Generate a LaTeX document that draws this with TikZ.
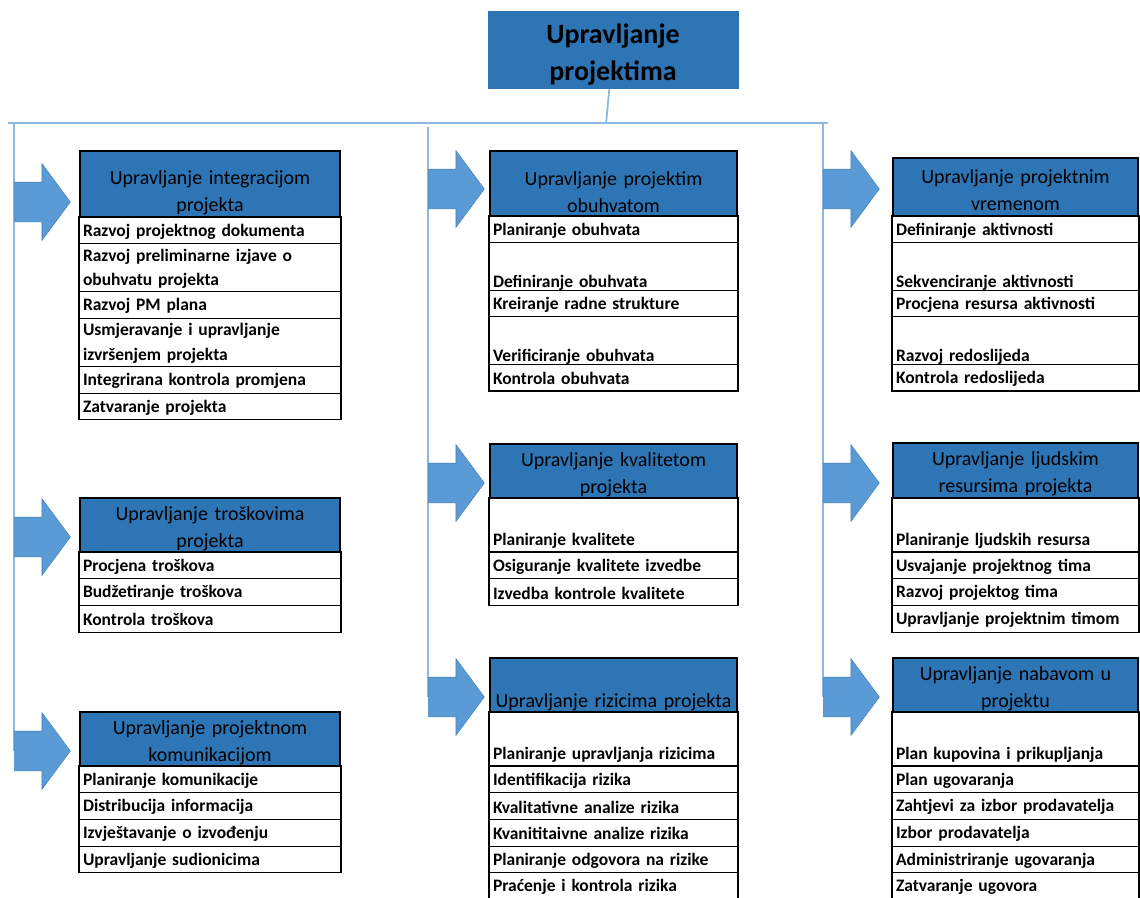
\documentclass[tikz,border=0pt]{standalone}
\usepackage{fontspec}
\setmainfont{Carlito}
\usetikzlibrary{positioning,shapes.arrows,backgrounds}

\definecolor{headblue}{HTML}{2E75B6}
\definecolor{arrowblue}{HTML}{5B9BD5}
\definecolor{arrowedge}{HTML}{4A85BE}
\definecolor{linkblue}{HTML}{8DB8E2}

\tikzstyle{title} = [rectangle, fill=headblue, draw=headblue, minimum width=250pt, minimum height=75pt, text height=66pt, align=center, font=\fontsize{28}{37}\selectfont\bfseries]
\tikzstyle{head} = [rectangle, fill=headblue, draw=black, line width=1.2pt, outer sep=0pt, inner xsep=3pt, inner ysep=0pt, text height=21pt, align=center, anchor=north, font=\fontsize{20}{27}\selectfont]
\tikzstyle{item} = [rectangle, fill=white, draw=black, line width=1.2pt, outer sep=0pt, inner xsep=4pt, inner ysep=0pt, text height=14.5pt, align=left, minimum height=26.7pt, font=\fontsize{17.5}{24.5}\selectfont\bfseries]
\tikzstyle{tall} = [minimum height=54pt]
\tikzstyle{low} = [text height=20pt]
\tikzstyle{colL} = [text width=254pt]
\tikzstyle{colM} = [text width=241pt]
\tikzstyle{colR} = [text width=239pt]
\tikzstyle{blockarrow} = [single arrow, fill=arrowblue, draw=arrowedge, line width=0.6pt, minimum height=56pt, inner xsep=0pt, inner ysep=19.5pt, single arrow head extend=18.5pt, single arrow tip angle=107, anchor=tail]
\tikzstyle{link} = [draw=linkblue, line width=1.8pt]

\begin{document}
\begin{tikzpicture}[x=1pt, y=-1pt]
  \useasboundingbox (0,0) rectangle (1140,897);
  \clip (0,0) rectangle (1140,897);

  \node (PM) [title] at (613,49.5) {Upravljanje\\projektima};

  \node (Int) [head, colL, minimum height=66pt, text height=32pt] at (210,151) {Upravljanje integracijom\\projekta};
  \node (Int1) [item, colL, below=0pt of Int] {Razvoj projektnog dokumenta};
  \node (Int2) [item, colL, minimum height=48pt, below=0pt of Int1] {Razvoj preliminarne izjave o\\obuhvatu projekta};
  \node (Int3) [item, colL, below=0pt of Int2] {Razvoj PM plana};
  \node (Int4) [item, colL, minimum height=48pt, below=0pt of Int3] {Usmjeravanje i upravljanje\\izvršenjem projekta};
  \node (Int5) [item, colL, below=0pt of Int4] {Integrirana kontrola promjena};
  \node (Int6) [item, colL, below=0pt of Int5] {Zatvaranje projekta};

  \node (Tros) [head, colL, minimum height=54pt] at (210,498) {Upravljanje troškovima\\projekta};
  \node (Tros1) [item, colL, below=0pt of Tros] {Procjena troškova};
  \node (Tros2) [item, colL, below=0pt of Tros1] {Budžetiranje troškova};
  \node (Tros3) [item, colL, below=0pt of Tros2] {Kontrola troškova};

  \node (Kom) [head, colL, minimum height=54pt] at (210,712) {Upravljanje projektnom\\komunikacijom};
  \node (Kom1) [item, colL, below=0pt of Kom] {Planiranje komunikacije};
  \node (Kom2) [item, colL, below=0pt of Kom1] {Distribucija informacija};
  \node (Kom3) [item, colL, below=0pt of Kom2] {Izvještavanje o izvođenju};
  \node (Kom4) [item, colL, below=0pt of Kom3] {Upravljanje sudionicima};

  \node (Obu) [head, colM, minimum height=65pt, text height=32pt] at (613.5,151) {Upravljanje projektim\\obuhvatom};
  \node (Obu1) [item, colM, below=0pt of Obu] {Planiranje obuhvata};
  \node (Obu2) [item, colM, low, minimum height=47pt, below=0pt of Obu1] {\mbox{}\\Definiranje obuhvata};
  \node (Obu3) [item, colM, below=0pt of Obu2] {Kreiranje radne strukture};
  \node (Obu4) [item, colM, low, minimum height=47pt, below=0pt of Obu3] {\mbox{}\\Verificiranje obuhvata};
  \node (Obu5) [item, colM, below=0pt of Obu4] {Kontrola obuhvata};

  \node (Kval) [head, colM, minimum height=54pt] at (613.5,444) {Upravljanje kvalitetom\\projekta};
  \node (Kval1) [item, colM, tall, low, below=0pt of Kval] {\mbox{}\\Planiranje kvalitete};
  \node (Kval2) [item, colM, below=0pt of Kval1] {Osiguranje kvalitete izvedbe};
  \node (Kval3) [item, colM, below=0pt of Kval2] {Izvedba kontrole kvalitete};

  \node (Riz) [head, colM, minimum height=54pt] at (613.5,658) {\mbox{}\\Upravljanje rizicima projekta};
  \node (Riz1) [item, colM, tall, low, below=0pt of Riz] {\mbox{}\\Planiranje upravljanja rizicima};
  \node (Riz2) [item, colM, below=0pt of Riz1] {Identifikacija rizika};
  \node (Riz3) [item, colM, below=0pt of Riz2] {Kvalitativne analize rizika};
  \node (Riz4) [item, colM, below=0pt of Riz3] {Kvanititaivne analize rizika};
  \node (Riz5) [item, colM, below=0pt of Riz4] {Planiranje odgovora na rizike};
  \node (Riz6) [item, colM, below=0pt of Riz5] {Praćenje i kontrola rizika};

  \node (Vrij) [head, colR, minimum height=58pt] at (1015.5,158) {Upravljanje projektnim\\vremenom};
  \node (Vrij1) [item, colR, below=0pt of Vrij] {Definiranje aktivnosti};
  \node (Vrij2) [item, colR, low, minimum height=47pt, below=0pt of Vrij1] {\mbox{}\\Sekvenciranje aktivnosti};
  \node (Vrij3) [item, colR, below=0pt of Vrij2] {Procjena resursa aktivnosti};
  \node (Vrij4) [item, colR, low, minimum height=47pt, below=0pt of Vrij3] {\mbox{}\\Razvoj redoslijeda};
  \node (Vrij5) [item, colR, below=0pt of Vrij4] {Kontrola redoslijeda};

  \node (Ljud) [head, colR, minimum height=55pt] at (1015.5,443) {Upravljanje ljudskim\\resursima projekta};
  \node (Ljud1) [item, colR, tall, low, below=0pt of Ljud] {\mbox{}\\Planiranje ljudskih resursa};
  \node (Ljud2) [item, colR, below=0pt of Ljud1] {Usvajanje projektnog tima};
  \node (Ljud3) [item, colR, below=0pt of Ljud2] {Razvoj projektog tima};
  \node (Ljud4) [item, colR, below=0pt of Ljud3] {Upravljanje projektnim timom};

  \node (Nab) [head, colR, minimum height=54pt] at (1015.5,658) {Upravljanje nabavom u\\projektu};
  \node (Nab1) [item, colR, tall, low, below=0pt of Nab] {\mbox{}\\Plan kupovina i prikupljanja};
  \node (Nab2) [item, colR, below=0pt of Nab1] {Plan ugovaranja};
  \node (Nab3) [item, colR, below=0pt of Nab2] {Zahtjevi za izbor prodavatelja};
  \node (Nab4) [item, colR, below=0pt of Nab3] {Izbor prodavatelja};
  \node (Nab5) [item, colR, below=0pt of Nab4] {Administriranje ugovaranja};
  \node (Nab6) [item, colR, below=0pt of Nab5] {Zatvaranje ugovora};

  \node (IntArrow) [blockarrow] at (14,202) {};
  \node (TrosArrow) [blockarrow] at (14,537) {};
  \node (KomArrow) [blockarrow] at (14,751) {};
  \node (ObuArrow) [blockarrow] at (428,189) {};
  \node (KvalArrow) [blockarrow] at (428,483) {};
  \node (RizArrow) [blockarrow] at (428,697) {};
  \node (VrijArrow) [blockarrow] at (823,189) {};
  \node (LjudArrow) [blockarrow] at (823,483) {};
  \node (NabArrow) [blockarrow] at (823,697) {};

  \coordinate (BusW) at (8,123);
  \coordinate (BusE) at (828,123);
  \coordinate (BusPM) at (606,124);
  \coordinate (ColL) at (14,123);
  \coordinate (ColM) at (428,127);
  \coordinate (ColR) at (823,123);

  \begin{scope}[on background layer]
    \draw [link] (BusW) -- (BusE);
    \draw [link] (PM) -- (BusPM);
    \draw [link] (ColL) -- (KomArrow.tail);
    \draw [link] (ColM) -- (RizArrow.tail);
    \draw [link] (ColR) -- (NabArrow.tail);
  \end{scope}
\end{tikzpicture}
\end{document}
